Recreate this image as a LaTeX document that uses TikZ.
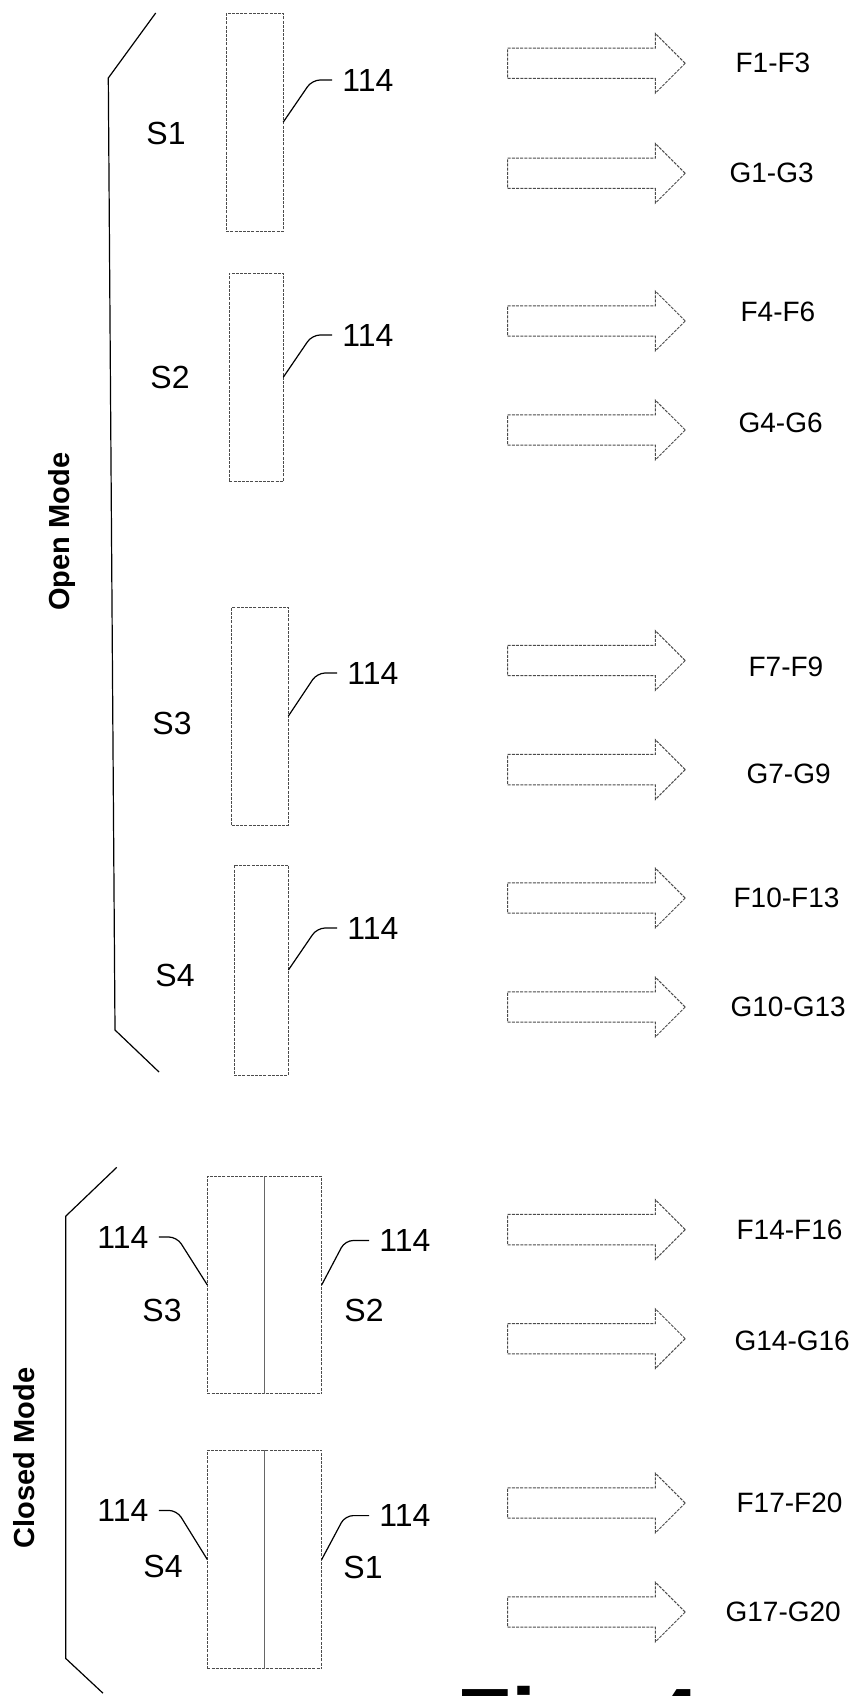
\documentclass[tikz,border=0pt]{standalone}
\usepackage{fontspec}
\setmainfont{Liberation Sans}
\usetikzlibrary{shapes.arrows,positioning}

\begin{document}
\begin{tikzpicture}[
    x=0.5pt, y=-0.5pt,
    panel/.style={draw=black!70, dash pattern=on 1.5pt off 0.6pt, line width=0.5pt, inner sep=0pt, outer sep=0pt},
    bigarrow/.style={shape=single arrow, draw=black!70, dash pattern=on 1.5pt off 0.6pt, line width=0.5pt, inner xsep=0pt, inner ysep=7.35pt, outer sep=0pt, single arrow head extend=7.3pt, single arrow tip angle=90, minimum height=88.85pt, anchor=tail},
    flow/.style={font=\fontsize{14}{16}\selectfont, inner sep=0pt},
    seg/.style={font=\fontsize{16}{18}\selectfont, inner sep=0pt},
    refnum/.style={font=\fontsize{16}{18}\selectfont, inner sep=0pt, inner xsep=5pt},
    mode/.style={font=\bfseries\fontsize{14.5}{16}\selectfont, rotate=90, inner sep=0pt},
    leader/.style={line width=0.6pt, rounded corners=4pt},
    divider/.style={draw=black!60, line width=0.5pt},
    bracket/.style={line width=0.6pt}
  ]
    \useasboundingbox (0,0) rectangle (860,1696);

    % open mode
    \draw[bracket] (155.7,13) -- (108.3,78) -- (115,1030) -- (159,1072);
    \node[mode] (openmode) at (62.5,531.7) {Open Mode};

    \node[panel, minimum width=28.5pt, minimum height=109pt] (s1box) at (254.7,122.2) {};
    \node[panel, minimum width=27pt, minimum height=104pt] (s2box) at (256.3,377.2) {};
    \node[panel, minimum width=28.3pt, minimum height=109pt] (s3box) at (260,716.2) {};
    \node[panel, minimum width=27.2pt, minimum height=105pt] (s4box) at (261.2,970) {};

    \node[seg] (s1) at (166,133) {S1};
    \node[seg] (s2) at (170,377) {S2};
    \node[seg] (s3) at (172,723) {S3};
    \node[seg] (s4) at (175,975) {S4};

    \node[refnum] (n1) at (368,80) {114};
    \node[refnum] (n2) at (368,335) {114};
    \node[refnum] (n3) at (373,673) {114};
    \node[refnum] (n4) at (373,928) {114};
    \draw[leader] (s1box.east) -- ([xshift=-10pt]n1.west) -- (n1.west);
    \draw[leader] (s2box.east) -- ([xshift=-10pt]n2.west) -- (n2.west);
    \draw[leader] (s3box.east) -- ([xshift=-10pt]n3.west) -- (n3.west);
    \draw[leader] (s4box.east) -- ([xshift=-10pt]n4.west) -- (n4.west);

    % closed mode
    \draw[bracket] (116.7,1167.4) -- (65.7,1216.2) -- (65.7,1658.4) -- (103,1693.2);
    \node[mode] (closedmode) at (24,1458) {Closed Mode};

    \node[panel, minimum width=57.2pt, minimum height=108.8pt] (c1) at (264.5,1284.9) {};
    \node[panel, minimum width=57.2pt, minimum height=109.35pt] (c2) at (264.5,1559.5) {};
    \draw[divider] (c1.north) -- (c1.south);
    \draw[divider] (c2.north) -- (c2.south);

    \node[seg] (c1s3) at (162,1310) {S3};
    \node[seg] (c1s2) at (364,1310) {S2};
    \node[seg] (c2s4) at (163,1566) {S4};
    \node[seg] (c2s1) at (363,1567) {S1};

    \node[refnum] (n5) at (123,1237) {114};
    \node[refnum] (n6) at (405,1240.5) {114};
    \node[refnum] (n7) at (123,1510.4) {114};
    \node[refnum] (n8) at (405,1515.6) {114};
    \draw[leader] (c1.west) -- ([xshift=9pt]n5.east) -- (n5.east);
    \draw[leader] (c1.east) -- ([xshift=-12pt]n6.west) -- (n6.west);
    \draw[leader] (c2.west) -- ([xshift=9pt]n7.east) -- (n7.east);
    \draw[leader] (c2.east) -- ([xshift=-12pt]n8.west) -- (n8.west);

    % outputs
    \node[bigarrow] (a1) at (507.5,63.3) {};
    \node[bigarrow] (a2) at (507.5,173.3) {};
    \node[bigarrow] (a3) at (507.5,321) {};
    \node[bigarrow] (a4) at (507.5,430) {};
    \node[bigarrow] (a5) at (507.5,660.5) {};
    \node[bigarrow] (a6) at (507.5,769.6) {};
    \node[bigarrow] (a7) at (507.5,898) {};
    \node[bigarrow] (a8) at (507.5,1007) {};
    \node[bigarrow] (a9) at (507.5,1229.6) {};
    \node[bigarrow] (a10) at (507.5,1338.7) {};
    \node[bigarrow] (a11) at (507.5,1503) {};
    \node[bigarrow] (a12) at (507.5,1612) {};

    \node[flow, right=25pt of a1.tip] (f1) {F1-F3};
    \node[flow, right=22pt of a2.tip] (g1) {G1-G3};
    \node[flow, right=27.5pt of a3.tip, yshift=4.5pt] (f4) {F4-F6};
    \node[flow, right=26.5pt of a4.tip, yshift=3.5pt] (g4) {G4-G6};
    \node[flow, right=31.5pt of a5.tip, yshift=-3pt] (f7) {F7-F9};
    \node[flow, right=30.5pt of a6.tip, yshift=-2pt] (g7) {G7-G9};
    \node[flow, right=24pt of a7.tip] (f10) {F10-F13};
    \node[flow, right=22.5pt of a8.tip] (g10) {G10-G13};
    \node[flow, right=25.5pt of a9.tip] (f14) {F14-F16};
    \node[flow, right=24.5pt of a10.tip, yshift=-1pt] (g14) {G14-G16};
    \node[flow, right=25.5pt of a11.tip] (f17) {F17-F20};
    \node[flow, right=20pt of a12.tip] (g17) {G17-G20};

    \node[anchor=base west, inner sep=0pt, font=\bfseries\fontsize{45}{50}\selectfont] (figlabel) at (456,1751) {Fig. 4};
  \end{tikzpicture}
\end{document}
